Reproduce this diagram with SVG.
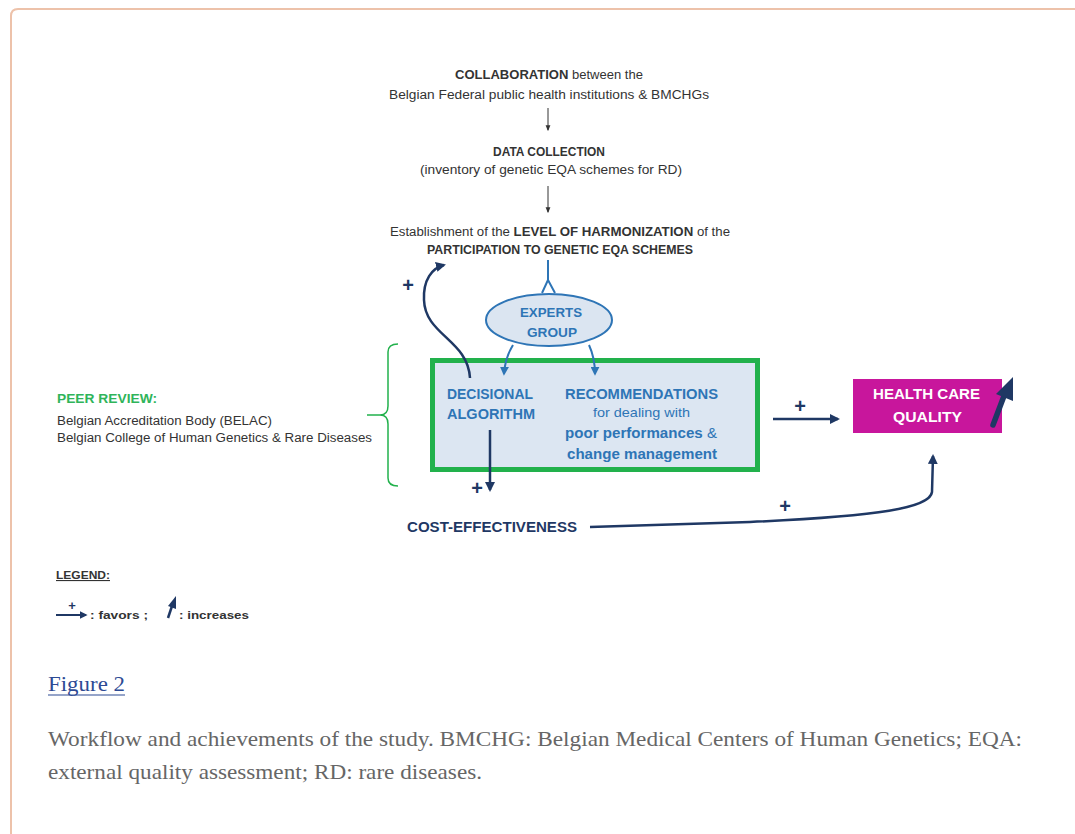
<svg xmlns="http://www.w3.org/2000/svg" width="1075" height="834" viewBox="0 0 1075 834">
<style>
.t{font-family:"Liberation Sans",Arial,sans-serif;fill:#333}
.b{font-weight:bold}
.blue{fill:#2e75b6}
.navy{fill:#1f3864}
.cap{font-family:"Liberation Serif","Times New Roman",serif;fill:#666;font-size:22px}
.nv{stroke:#1f3864;fill:none;stroke-width:2.5}
.bl{stroke:#2e75b6;fill:none;stroke-width:2}
.bk{stroke:#333;fill:none;stroke-width:1}
</style>
<defs>
<marker id="mn" viewBox="0 0 10 10" refX="8" refY="5" markerWidth="4" markerHeight="4" orient="auto" markerUnits="strokeWidth"><path d="M0,0 L10,5 L0,10 z" fill="#1f3864"/></marker>
<marker id="mb" viewBox="0 0 10 10" refX="8" refY="5" markerWidth="4.5" markerHeight="4.5" orient="auto" markerUnits="strokeWidth"><path d="M0,0 L10,5 L0,10 z" fill="#2e75b6"/></marker>
<marker id="mk" viewBox="0 0 10 10" refX="8" refY="5" markerWidth="6" markerHeight="6" orient="auto" markerUnits="strokeWidth"><path d="M0,1 L10,5 L0,9 z" fill="#333"/></marker>
</defs>
<rect width="1075" height="834" fill="#fff"/>
<path d="M11,834 V16 Q11,9 18,9 H1075" fill="none" stroke="#edc2aa" stroke-width="2"/>

<g id="collaboration">
<text class="t" x="455" y="79" font-size="12.5" textLength="188" lengthAdjust="spacingAndGlyphs"><tspan class="b">COLLABORATION</tspan> between the</text>
<text class="t" x="389" y="99" font-size="12.5" textLength="320" lengthAdjust="spacingAndGlyphs">Belgian Federal public health institutions &amp; BMCHGs</text>
</g>
<g id="data-collection">
<text class="t b" x="493" y="156" font-size="12" textLength="112" lengthAdjust="spacingAndGlyphs">DATA COLLECTION</text>
<text class="t" x="420" y="174" font-size="12.5" textLength="262" lengthAdjust="spacingAndGlyphs">(inventory of genetic EQA schemes for RD)</text>
</g>
<g id="harmonization">
<text class="t" x="390" y="236" font-size="12.5" textLength="340" lengthAdjust="spacingAndGlyphs">Establishment of the <tspan class="b">LEVEL OF HARMONIZATION</tspan> of the</text>
<text class="t b" x="427" y="254" font-size="12" textLength="266" lengthAdjust="spacingAndGlyphs">PARTICIPATION TO GENETIC EQA SCHEMES</text>
</g>
<g id="experts-group">
<ellipse cx="549" cy="320" rx="63" ry="26" fill="#dbe5f1" stroke="#2e75b6" stroke-width="2"/>
<text class="t b blue" x="520" y="317" font-size="13.5" textLength="62" lengthAdjust="spacingAndGlyphs">EXPERTS</text>
<text class="t b blue" x="527" y="337" font-size="13.5" textLength="50" lengthAdjust="spacingAndGlyphs">GROUP</text>
</g>
<g id="box">
<rect x="432.5" y="360.5" width="325" height="109" fill="#dce6f2" stroke="#22b14c" stroke-width="5"/>
<text class="t b blue" x="447" y="399" font-size="14" textLength="86" lengthAdjust="spacingAndGlyphs">DECISIONAL</text>
<text class="t b blue" x="447" y="419" font-size="14" textLength="88" lengthAdjust="spacingAndGlyphs">ALGORITHM</text>
<text class="t b blue" x="565" y="399" font-size="14" textLength="153" lengthAdjust="spacingAndGlyphs">RECOMMENDATIONS</text>
<text class="t blue" x="593" y="417" font-size="13" textLength="97" lengthAdjust="spacingAndGlyphs">for dealing with</text>
<text class="t b blue" x="565" y="438" font-size="14" textLength="152" lengthAdjust="spacingAndGlyphs">poor performances <tspan font-weight="normal">&amp;</tspan></text>
<text class="t b blue" x="567" y="459" font-size="14" textLength="150" lengthAdjust="spacingAndGlyphs">change management</text>
</g>
<g id="peer-review">
<text class="t b" x="57" y="403" font-size="13.5" textLength="100" lengthAdjust="spacingAndGlyphs" style="fill:#2fb45a">PEER REVIEW:</text>
<text class="t" x="57" y="425" font-size="12" textLength="215" lengthAdjust="spacingAndGlyphs">Belgian Accreditation Body (BELAC)</text>
<text class="t" x="57" y="442" font-size="12" textLength="315" lengthAdjust="spacingAndGlyphs">Belgian College of Human Genetics &amp; Rare Diseases</text>
<path d="M398,344 Q388,344 388,352 V406 Q388,415 380,415 Q388,415 388,424 V478 Q388,486 398,486 M380,415 H367" fill="none" stroke="#22b14c" stroke-width="1.5"/>
</g>
<g id="health-care-quality">
<rect x="853" y="379" width="149" height="54" fill="#c8169c"/>
<text class="t b" x="873" y="399" font-size="14" textLength="107" lengthAdjust="spacingAndGlyphs" style="fill:#fff">HEALTH CARE</text>
<text class="t b" x="893" y="422" font-size="14" textLength="69" lengthAdjust="spacingAndGlyphs" style="fill:#fff">QUALITY</text>
<path d="M993,425 L1004,396" stroke="#1f3864" stroke-width="5.5" fill="none" stroke-linecap="round"/>
<path d="M996,394 L1013,377 L1013,401 z" fill="#1f3864"/>
</g>
<g id="cost-effectiveness">
<text class="t b navy" x="407" y="532" font-size="14.5" textLength="170" lengthAdjust="spacingAndGlyphs">COST-EFFECTIVENESS</text>
</g>

<g id="connectors">
<path class="bk" d="M548,108 V130" marker-end="url(#mk)"/>
<path class="bk" d="M548,186 V212" marker-end="url(#mk)"/>
<path class="bl" d="M548,260 V280 L542,293 M548,280 L555,293"/>
<path class="bl" d="M513,345 Q505,358 504,374" marker-end="url(#mb)"/>
<path class="bl" d="M589,345 Q595,358 595,374" marker-end="url(#mb)"/>
<path class="nv" d="M470,378 C468,340 425,335 424,300 C423,280 432,268 444,265" marker-end="url(#mn)"/>
<path class="nv" d="M490,430 V490" marker-end="url(#mn)"/>
<path class="nv" d="M773,419 H838" marker-end="url(#mn)"/>
<path class="nv" d="M590,527 L750,522 C880,516 930,508 932,492 L933,456" marker-end="url(#mn)"/>
<g class="t b navy" font-size="20" text-anchor="middle">
<text x="408" y="292">+</text>
<text x="477" y="495">+</text>
<text x="800" y="413">+</text>
<text x="785" y="513">+</text>
</g>
</g>

<g id="legend">
<text class="t b" x="56" y="579" font-size="11" textLength="54" lengthAdjust="spacingAndGlyphs" text-decoration="underline">LEGEND:</text>
<path d="M56,615 H86" stroke="#1f3864" stroke-width="2" marker-end="url(#mn)"/>
<text class="t b navy" x="72" y="610" font-size="13" text-anchor="middle">+</text>
<text class="t b" x="90" y="619" font-size="11" textLength="58" lengthAdjust="spacingAndGlyphs">: favors ;</text>
<path d="M168,618 L172,606" stroke="#1f3864" stroke-width="2.5"/>
<path d="M168,606 L176,596 L176,609 z" fill="#1f3864"/>
<text class="t b" x="179" y="619" font-size="11" textLength="70" lengthAdjust="spacingAndGlyphs">: increases</text>
</g>

<g id="caption">
<text class="cap" x="48" y="691" textLength="77" lengthAdjust="spacingAndGlyphs" style="fill:#2d4a94">Figure 2</text>
<line x1="48" y1="695" x2="125" y2="695" stroke="#2d4a94" stroke-width="1.2"/>
<text class="cap" x="48" y="746" textLength="974" lengthAdjust="spacingAndGlyphs">Workflow and achievements of the study. BMCHG: Belgian Medical Centers of Human Genetics; EQA:</text>
<text class="cap" x="48" y="779" textLength="434" lengthAdjust="spacingAndGlyphs">external quality assessment; RD: rare diseases.</text>
</g>
</svg>
